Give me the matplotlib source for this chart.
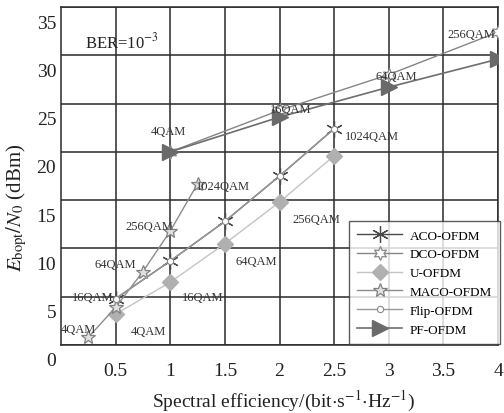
import matplotlib
matplotlib.use("Agg")
import matplotlib.pyplot as plt
import matplotlib.transforms as mtransforms

plt.rcParams["font.family"] = ["Liberation Serif", "DejaVu Serif"]
plt.rcParams["mathtext.fontset"] = "stix"

# data
aco_x = [0.5, 1.0, 1.5, 2.0, 2.5]
aco_y = [4.8, 8.7, 12.8, 17.5, 22.4]
flip_x = [0.5, 1.0, 1.5, 2.0, 2.5]
flip_y = [4.8, 8.7, 12.8, 17.5, 22.4]
u_x = [0.5, 1.0, 1.5, 2.0, 2.5]
u_y = [3.2, 6.5, 10.5, 14.8, 19.6]
maco_x = [0.25, 0.5, 0.75, 1.0, 1.25]
maco_y = [0.8, 3.9, 7.6, 11.8, 16.7]
dco_x = [1, 2, 3, 4]
dco_y = [20.0, 24.3, 28.0, 32.4]
pf_x = [1, 2, 3, 4]
pf_y = [20.0, 23.6, 26.7, 29.6]

qam_names = ["4QAM", "16QAM", "64QAM", "256QAM", "1024QAM"]
x_ticks = [0.5, 1, 1.5, 2, 2.5, 3, 3.5, 4]
y_ticks = [0, 5, 10, 15, 20, 25, 30, 35]

# where the modulation names sit (text positions, data coords)
aco_lbl_pos = [(0.8, 1.5), (1.3, 5.0), (1.79, 8.7), (2.34, 13.0), (2.85, 21.6)]
maco_lbl_pos = [(0.16, 1.7), (0.29, 5.0), (0.5, 8.4), (0.81, 12.3), (1.48, 16.5)]
dco_lbl_pos = [(0.98, 22.2), (2.1, 24.4), (3.07, 27.9), (3.76, 32.2)]

fig = plt.figure(figsize=(5.04, 4.14), dpi=100)
ax = fig.add_axes([61 / 504, 1 - 346 / 414, 437 / 504, 338 / 414])

ax.plot(aco_x, aco_y, color="#4a4a4a", lw=1.0, marker=(6, 2, 0), ms=12,
        mec="#4a4a4a", mew=0.9, label="ACO-OFDM", zorder=3)
ax.plot(dco_x, dco_y, color="#858585", lw=1.0, marker=(6, 1, 0), ms=10,
        mfc="white", mec="#888888", mew=0.9, label="DCO-OFDM", zorder=3)
ax.plot(u_x, u_y, color="#c4c4c4", lw=1.0, marker="D", ms=8,
        mfc="#b0b0b0", mec="#b0b0b0", label="U-OFDM", zorder=3)
ax.plot(maco_x, maco_y, color="#8c8c8c", lw=1.0, marker="*", ms=10,
        mfc="#e0e0e0", mec="#808080", mew=0.9, label="MACO-OFDM", zorder=3)
ax.plot(flip_x, flip_y, color="#999999", lw=1.0, marker="o", ms=4.5,
        mfc="white", mec="#888888", mew=0.8, label="Flip-OFDM", zorder=4)
ax.plot(pf_x, pf_y, color="#6e6e6e", lw=1.2, marker=">", ms=12,
        mfc="#6a6a6a", mec="#6a6a6a", label="PF-OFDM", zorder=3)

txt = dict(fontsize=9, color="#333333", ha="center", va="center",
           clip_on=False, zorder=5)
for name, (tx, ty) in zip(qam_names, aco_lbl_pos):
    ax.text(tx, ty, name, **txt)
for name, (tx, ty) in zip(qam_names, maco_lbl_pos):
    ax.text(tx, ty, name, **txt)
for name, (tx, ty) in zip(qam_names, dco_lbl_pos):
    ax.text(tx, ty, name, **txt)

ax.text(0.56, 31.4, r"BER=10$^{-3}$", fontsize=12, color="#222222",
        ha="center", va="center")

ax.set_xlim(0, 4)
ax.set_ylim(0, 35)
ax.set_xticks(x_ticks)
ax.set_xticklabels([f"{v:g}" for v in x_ticks])
ax.set_yticks(y_ticks)
ax.set_yticklabels([str(v) for v in y_ticks])
ax.grid(True, color="#2a2a2a", lw=1.1)
ax.set_axisbelow(True)
for s in ax.spines.values():
    s.set_color("#2a2a2a")
    s.set_linewidth(1.1)
ax.tick_params(axis="both", length=0, labelsize=14, colors="#222222")
ax.tick_params(axis="x", pad=12)

# the scanned figure has its y numbers sitting a little under the grid lines
shift = mtransforms.ScaledTranslation(0, -0.14, fig.dpi_scale_trans)
for lab in ax.get_yticklabels():
    lab.set_transform(lab.get_transform() + shift)

ax.set_xlabel(r"Spectral efficiency/(bit$\cdot$s$^{-1}$$\cdot$Hz$^{-1}$)",
              fontsize=14, color="#222222")
ax.xaxis.set_label_coords(0.51, -0.165)
ax.xaxis.label.set_va("center")
ax.set_ylabel(r"$E_{\mathrm{bopt}}/N_0$ (dBm)", fontsize=15, color="#222222")
ax.yaxis.set_label_coords(-0.1, 0.41)
ax.yaxis.label.set_va("center")

leg = ax.legend(loc="lower right", bbox_to_anchor=(1.005, 0.004),
                fontsize=9.5, frameon=True, fancybox=False, edgecolor="#333333",
                handlelength=3.4, labelspacing=0.5, borderpad=0.6,
                handletextpad=0.6, borderaxespad=0.0)
leg.get_frame().set_linewidth(1.0)

fig.savefig("out.png", dpi=100, facecolor="white")
